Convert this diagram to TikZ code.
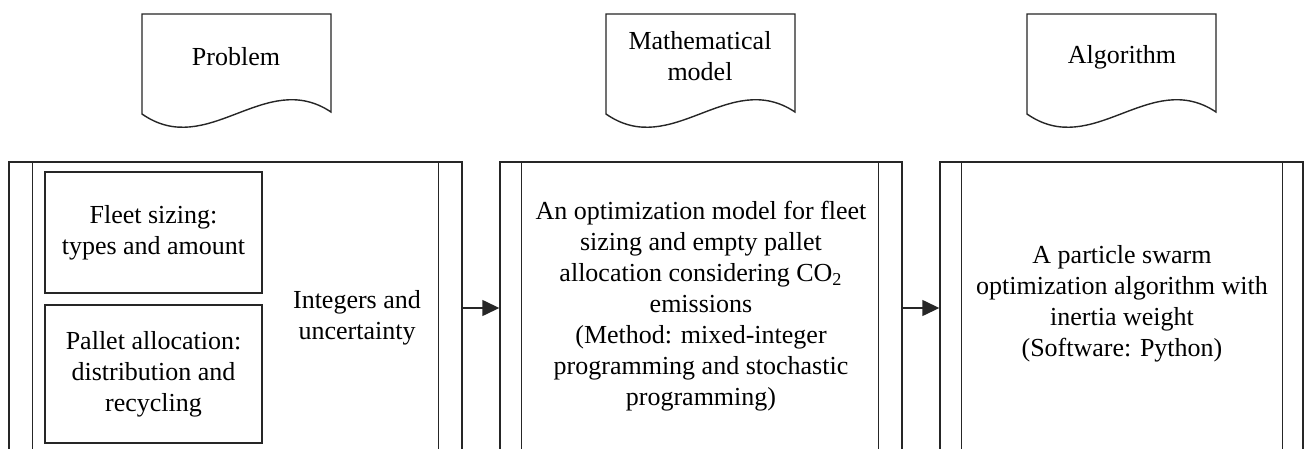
\documentclass[tikz,border=0pt]{standalone}
\usepackage{fontspec}
\setmainfont{Liberation Serif}
\usetikzlibrary{arrows.meta}
\begin{document}
\begin{tikzpicture}[x=0.5pt,y=-0.5pt,
  line/.style={draw=black!85,line width=0.7pt},
  frame/.style={line, rectangle, minimum height=146pt, inner sep=0pt},
  txt/.style={font=\fontsize{13pt}{15.5pt}\selectfont, align=center, inner sep=0pt},
  box/.style={line, rectangle, minimum width=108.5pt, inner sep=0pt, font=\fontsize{13pt}{15.5pt}\selectfont, align=center},
  arr/.style={line, -{Triangle[length=8.5pt,width=8pt]}}]
\useasboundingbox (0,0) rectangle (1308,449);
\clip (0,0) rectangle (1308,449);
\fill[white] (0,0) rectangle (1308,449);

% document shapes
\foreach \L in {142,606,1027}{
  \draw[line] (\L,14) -- ({\L+189},14) -- ({\L+189},112)
    .. controls ({\L+123},68) and ({\L+66},160) .. (\L,114) -- cycle;
}
\node[txt] (d1) at (236,57) {Problem};
\node[txt] (d2) at (700,56) {Mathematical\\model};
\node[txt] (d3) at (1122,57) {Algorithm};

% frames
\node[frame, minimum width=226.5pt] (f1) at (235.5,308) {};
\node[frame, minimum width=201pt] (f2) at (701,308) {};
\node[frame, minimum width=181.5pt] (f3) at (1121.5,308) {};
\draw[line] ([xshift=12pt]f1.north west) -- ([xshift=12pt]f1.south west);
\draw[line] ([xshift=-12pt]f1.north east) -- ([xshift=-12pt]f1.south east);
\draw[line] ([xshift=11pt]f2.north west) -- ([xshift=11pt]f2.south west);
\draw[line] ([xshift=-12pt]f2.north east) -- ([xshift=-12pt]f2.south east);
\draw[line] ([xshift=11pt]f3.north west) -- ([xshift=11pt]f3.south west);
\draw[line] ([xshift=-10.5pt]f3.north east) -- ([xshift=-10.5pt]f3.south east);

% inner boxes
\node[box, minimum height=60.5pt] (fleet) at (153.5,232.5) {Fleet sizing:\\types and amount};
\node[box, minimum height=69pt] (pallet) at (153.5,374) {Pallet allocation:\\distribution and\\recycling};
\node[txt] (integ) at (357,318) {Integers and\\uncertainty};

\node[txt] (model) at (701,306) {An optimization model for fleet\\sizing and empty pallet\\allocation considering CO\textsubscript{2}\\emissions\\(Method: mixed-integer\\programming and stochastic\\programming)};
\node[txt] (algo) at (1122,304) {A particle swarm\\optimization algorithm with\\inertia weight\\(Software: Python)};

% arrows
\draw[arr] (f1.east) -- (f2.west);
\draw[arr] (f2.east) -- (f3.west);
\end{tikzpicture}
\end{document}
